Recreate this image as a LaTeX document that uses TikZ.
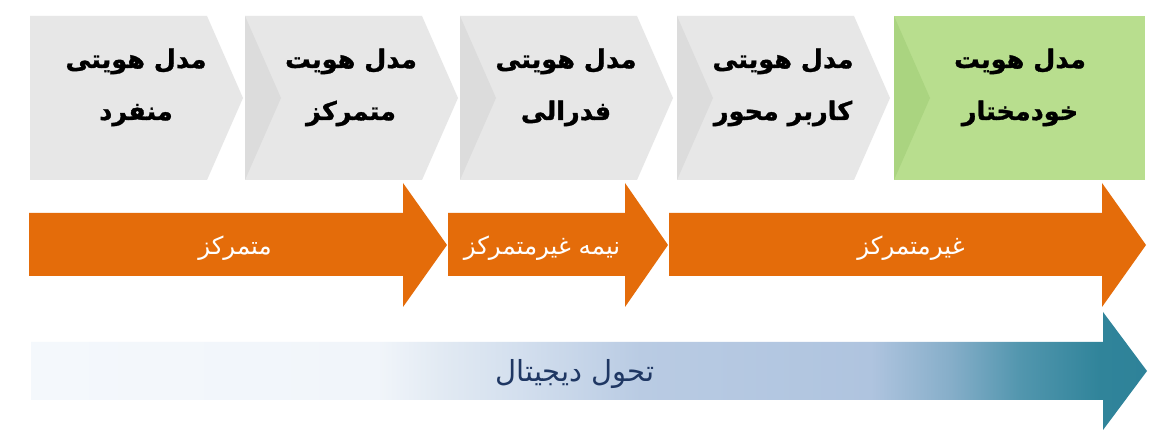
\documentclass[tikz,border=0pt]{standalone}
\usepackage{fontspec}
\setmainfont{DejaVu Sans}
\newfontfamily\arabicfont[Script=Arabic]{DejaVu Sans}
\newfontfamily\arabicheavy[Script=Arabic,BoldFont={DejaVu Sans Bold},BoldFeatures={FakeBold=1.2}]{DejaVu Sans}
\TeXXeTstate=1
\definecolor{boxgray}{HTML}{E7E7E7}
\definecolor{notchgray}{HTML}{DCDCDC}
\definecolor{boxgreen}{HTML}{B8DE8E}
\definecolor{notchgreen}{HTML}{AAD480}
\definecolor{arroworange}{HTML}{E46C0A}
\definecolor{navytext}{HTML}{1F3763}
\definecolor{dA}{HTML}{F4F8FC}
\definecolor{dB}{HTML}{F1F5FA}
\definecolor{dC}{HTML}{E2EAF3}
\definecolor{dD}{HTML}{D3DFEE}
\definecolor{dE}{HTML}{B9CBE3}
\definecolor{dF}{HTML}{AFC4DF}
\definecolor{dG}{HTML}{86AEC9}
\definecolor{dH}{HTML}{5296AE}
\definecolor{dI}{HTML}{30849A}
\definecolor{dJ}{HTML}{2E8299}
\pgfdeclarehorizontalshading{digital}{100bp}{color(0bp)=(dA); color(25bp)=(dA); color(40.5bp)=(dB); color(43.3bp)=(dC); color(46.9bp)=(dD); color(52.3bp)=(dE); color(62.6bp)=(dF); color(66.2bp)=(dG); color(69.3bp)=(dH); color(72.9bp)=(dI); color(75bp)=(dJ); color(100bp)=(dJ)}
\tikzset{
  titletext/.style={font=\arabicheavy\bfseries\fontsize{25.5}{30}\selectfont, text=black, inner sep=0pt, anchor=base},
  orangetext/.style={font=\arabicfont\fontsize{24.5}{28}\selectfont, text=white, inner sep=0pt, anchor=base},
  bluetext/.style={font=\arabicfont\fontsize{29}{33}\selectfont, text=navytext, inner sep=0pt, anchor=base},
}
\begin{document}
\begin{tikzpicture}[x=1pt,y=-1pt]
\useasboundingbox (0,0) rectangle (1176,443);
\fill[white] (0,0) rectangle (1176,443);
% grey chevrons
\foreach \L [count=\i] in {30,245,460,677}{
  \fill[boxgray] (\L,16) -- ({\L+177},16) -- ({\L+213},98) -- ({\L+177},180) -- (\L,180) -- cycle;
  \ifnum\i>1
    \fill[notchgray] (\L,16) -- ({\L+36},98) -- (\L,180) -- cycle;
  \fi
}
% green box
\fill[boxgreen] (894,16) rectangle (1145,180);
\fill[notchgreen] (894,16) -- (930,98) -- (894,180) -- cycle;
% titles
\node[titletext] (t1a) at (136,68) {\beginR مدل هویتی\endR};
\node[titletext] (t1b) at (136,120) {\beginR منفرد\endR};
\node[titletext] (t2a) at (351,68) {\beginR مدل هویت\endR};
\node[titletext] (t2b) at (351,120) {\beginR متمرکز\endR};
\node[titletext] (t3a) at (566,68) {\beginR مدل هویتی\endR};
\node[titletext] (t3b) at (566,120) {\beginR فدرالی\endR};
\node[titletext] (t4a) at (783,68) {\beginR مدل هویتی\endR};
\node[titletext] (t4b) at (783,120) {\beginR کاربر محور\endR};
\node[titletext] (t5a) at (1020,68) {\beginR مدل هویت\endR};
\node[titletext] (t5b) at (1020,120) {\beginR خودمختار\endR};
% orange arrows
\fill[arroworange] (29,213) -- (403,213) -- (403,183) -- (447,245) -- (403,307) -- (403,276) -- (29,276) -- cycle;
\fill[arroworange] (448,213) -- (625,213) -- (625,183) -- (668,245) -- (625,307) -- (625,276) -- (448,276) -- cycle;
\fill[arroworange] (669,213) -- (1102,213) -- (1102,183) -- (1146,245) -- (1102,307) -- (1102,276) -- (669,276) -- cycle;
\node[orangetext] (o1) at (235,255) {\beginR متمرکز\endR};
\node[orangetext] (o2) at (542,255) {\beginR نیمه غیرمتمرکز\endR};
\node[orangetext] (o3) at (911,255) {\beginR غیرمتمرکز\endR};
% digital transformation arrow
\shade[shading=digital] (31,342) -- (1103,342) -- (1103,312) -- (1147,371) -- (1103,430) -- (1103,400) -- (31,400) -- cycle;
\node[bluetext] (d1) at (575,382) {\beginR تحول دیجیتال\endR};
\end{tikzpicture}
\end{document}
